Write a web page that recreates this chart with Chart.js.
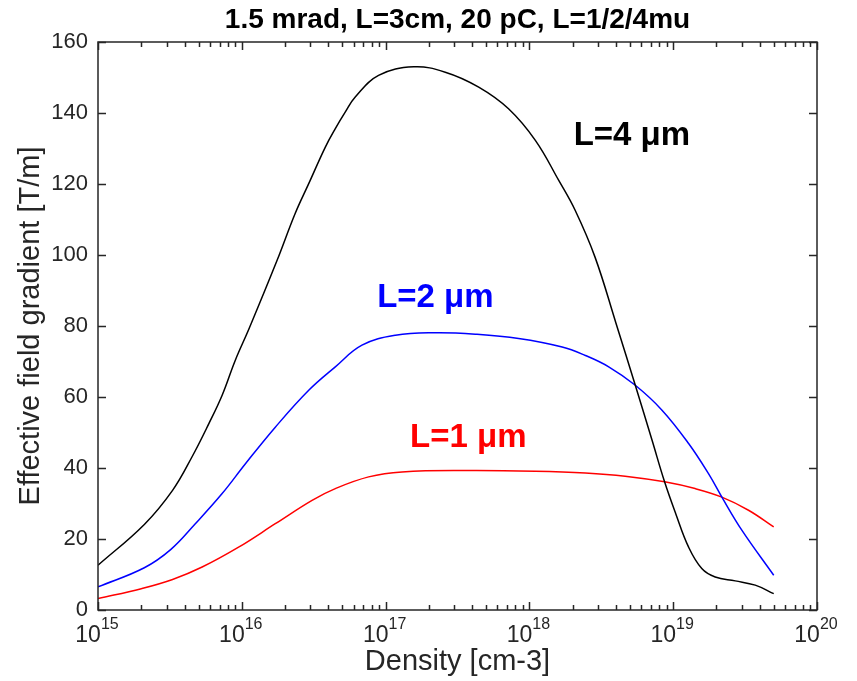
<!DOCTYPE html>
<html>
<head>
<meta charset="utf-8">
<script src="https://cdn.jsdelivr.net/npm/chart.js@4"></script>
<style>
  body { margin: 0; background: #fff; }
  canvas { display: block; }
</style>
</head>
<body>
<canvas id="myChart" width="857" height="681"></canvas>
<script>
// values
const densityL4 = [1.0e15, 2.1e15, 3.3e15, 4.5e15, 5.9e15, 7.3e15, 9.0e15, 1.13e16, 1.76e16, 2.35e16, 2.92e16, 3.81e16, 4.47e16, 5.25e16, 6.15e16, 8.93e16, 1.57e17, 2.6e17, 4.44e17, 7.16e17, 1.1e18, 1.6e18, 2.08e18, 2.86e18, 4.0e18, 5.45e18, 7.13e18, 8.71e18, 1.04e19, 1.28e19, 1.58e19, 1.96e19, 2.7e19, 3.72e19, 5.0e19];
const gradientL4 = [12.6, 24.1, 33.7, 43.1, 52.5, 60.5, 70.3, 79.5, 98.5, 111.7, 120.1, 130.4, 135.6, 140.3, 144.5, 150.6, 153.0, 151.5, 147.3, 141.2, 132.3, 121.0, 112.6, 99.4, 80.8, 63.3, 47.8, 36.1, 27.2, 17.7, 11.7, 9.3, 8.2, 7.0, 4.6];

const densityL2 = [1.0e15, 2.1e15, 3.2e15, 4.75e15, 7.3e15, 1.06e16, 1.71e16, 2.92e16, 4.47e16, 6.85e16, 1.17e17, 2.22e17, 4.21e17, 8.41e17, 1.69e18, 2.45e18, 3.56e18, 5.45e18, 8.36e18, 1.28e19, 1.76e19, 2.18e19, 3.0e19, 5.0e19];
const gradientL2 = [6.5, 11.9, 17.0, 24.3, 32.8, 41.2, 51.5, 61.9, 68.5, 74.6, 77.4, 78.1, 77.7, 76.5, 74.1, 71.7, 68.5, 63.3, 56.3, 46.9, 38.4, 31.8, 22.5, 9.8];

const densityL1 = [1.0e15, 2.0e15, 3.3e15, 5.3e15, 9.5e15, 1.71e16, 3.08e16, 4.47e16, 7.62e16, 1.3e17, 3.78e17, 1.1e18, 2.45e18, 4.63e18, 8.71e18, 1.42e19, 2.18e19, 3.34e19, 5.0e19];
const gradientL1 = [3.2, 6.0, 8.6, 12.1, 17.7, 24.3, 30.9, 34.2, 37.5, 38.9, 39.3, 39.1, 38.6, 37.7, 36.1, 34.2, 31.8, 28.1, 23.4];

const seriesNames = ['L=4 μm', 'L=2 μm', 'L=1 μm'];
const xDecades = [1e15, 1e16, 1e17, 1e18, 1e19, 1e20];
const xExponents = ['15', '16', '17', '18', '19', '20'];
const yTicks = [0, 20, 40, 60, 80, 100, 120, 140, 160];

const textColor = '#262626';
const fontFamily = 'Arial, "Liberation Sans", Helvetica, sans-serif';
Chart.defaults.font.family = fontFamily;

function toPoints(xs, ys) {
    return xs.map((x, i) => ({ x: x, y: ys[i] }));
}

// box, inward ticks, 10^n labels and the curve labels
const decorations = {
    id: 'decorations',
    afterDatasetsDraw(chart) {
        const ctx = chart.ctx;
        const area = chart.chartArea;
        const xs = chart.scales.x;
        const ys = chart.scales.y;
        ctx.save();
        ctx.strokeStyle = textColor;
        ctx.lineWidth = 1.5;
        ctx.strokeRect(area.left, area.top, area.right - area.left, area.bottom - area.top);

        ctx.beginPath();
        // y ticks on both sides
        yTicks.forEach(v => {
            const py = Math.round(ys.getPixelForValue(v)) + 0.5;
            ctx.moveTo(area.left, py); ctx.lineTo(area.left + 8, py);
            ctx.moveTo(area.right, py); ctx.lineTo(area.right - 8, py);
        });
        // x major and minor ticks top and bottom
        for (let d = 0; d < xDecades.length; d++) {
            const px = Math.round(xs.getPixelForValue(xDecades[d])) + 0.5;
            ctx.moveTo(px, area.bottom); ctx.lineTo(px, area.bottom - 8);
            ctx.moveTo(px, area.top); ctx.lineTo(px, area.top + 8);
            if (d < xDecades.length - 1) {
                for (let m = 2; m <= 9; m++) {
                    const mx = Math.round(xs.getPixelForValue(xDecades[d] * m)) + 0.5;
                    ctx.moveTo(mx, area.bottom); ctx.lineTo(mx, area.bottom - 5);
                    ctx.moveTo(mx, area.top); ctx.lineTo(mx, area.top + 5);
                }
            }
        }
        ctx.stroke();

        // x tick labels: 10 with superscript exponent
        ctx.fillStyle = textColor;
        ctx.textBaseline = 'alphabetic';
        ctx.textAlign = 'left';
        xDecades.forEach((v, i) => {
            const px = xs.getPixelForValue(v);
            ctx.font = '23px ' + fontFamily;
            const wBase = ctx.measureText('10').width;
            ctx.font = '16px ' + fontFamily;
            const wExp = ctx.measureText(xExponents[i]).width;
            const start = px - (wBase + wExp) / 2 - 1;
            ctx.font = '23px ' + fontFamily;
            ctx.fillText('10', start, area.bottom + 32);
            ctx.font = '16px ' + fontFamily;
            ctx.fillText(xExponents[i], start + wBase, area.bottom + 19);
        });

        // curve labels
        const labels = [
            { text: seriesNames[0], color: '#000000', x: 5.16e18, y: 130.9 },
            { text: seriesNames[1], color: '#0000ff', x: 2.22e17, y: 85.4 },
            { text: seriesNames[2], color: '#ff0000', x: 3.76e17, y: 45.9 }
        ];
        ctx.font = 'bold 33px ' + fontFamily;
        ctx.textAlign = 'center';
        labels.forEach(l => {
            ctx.fillStyle = l.color;
            ctx.fillText(l.text, xs.getPixelForValue(l.x), ys.getPixelForValue(l.y));
        });
        ctx.restore();
    }
};

const lineStyle = {
    borderWidth: 1.5,
    pointRadius: 0,
    fill: false,
    tension: 0.4
};

new Chart(document.getElementById('myChart'), {
    type: 'line',
    data: {
        datasets: [
            Object.assign({ label: seriesNames[0], data: toPoints(densityL4, gradientL4), borderColor: '#000000' }, lineStyle),
            Object.assign({ label: seriesNames[1], data: toPoints(densityL2, gradientL2), borderColor: '#0000ff' }, lineStyle),
            Object.assign({ label: seriesNames[2], data: toPoints(densityL1, gradientL1), borderColor: '#ff0000' }, lineStyle)
        ]
    },
    options: {
        responsive: false,
        animation: false,
        layout: { padding: { left: 0, right: 40, top: 0, bottom: 0 } },
        plugins: {
            legend: { display: false },
            tooltip: { enabled: false },
            title: {
                display: true,
                text: '1.5 mrad, L=3cm, 20 pC, L=1/2/4mu',
                color: '#000000',
                fullSize: false,
                font: { size: 28, weight: 'bold' },
                padding: { top: 3, bottom: 5.4 }
            }
        },
        scales: {
            x: {
                type: 'logarithmic',
                min: 1e15,
                max: 1e20,
                grid: { display: false },
                border: { display: false },
                ticks: { display: false },
                title: {
                    display: true,
                    text: 'Density [cm-3]',
                    color: textColor,
                    font: { size: 29 },
                    padding: { top: 0, bottom: 2 }
                },
                afterFit: s => { s.height = 71; }
            },
            y: {
                min: 0,
                max: 160,
                grid: { display: false, drawTicks: false },
                border: { display: false },
                ticks: {
                    stepSize: 20,
                    color: textColor,
                    font: { size: 22 },
                    padding: 10
                },
                title: {
                    display: true,
                    text: 'Effective field gradient [T/m]',
                    color: textColor,
                    font: { size: 29 },
                    padding: { top: 14, bottom: 0 }
                },
                afterFit: s => { s.width = 98; }
            }
        }
    },
    plugins: [decorations]
});
</script>
</body>
</html>
